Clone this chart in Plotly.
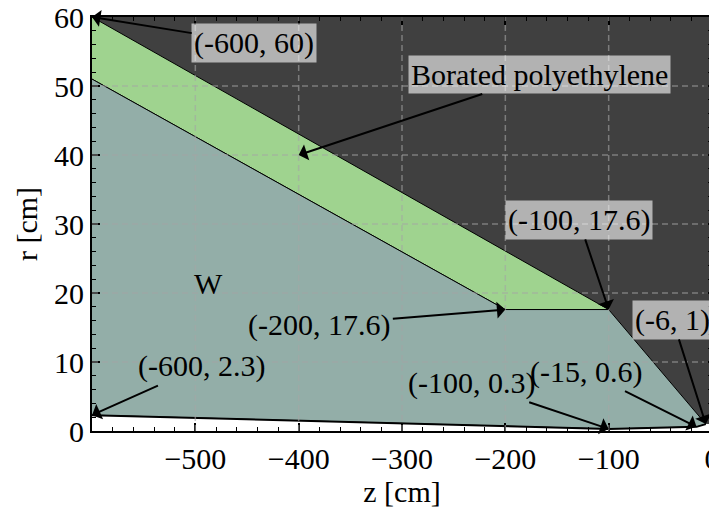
import plotly.graph_objects as go

# ---- data (z, r in cm) ----
bg_z = [-600, 0, 0, -600]
bg_r = [0, 0, 60, 60]

bpe_z = [-600, -100, -200, -600]
bpe_r = [60, 17.6, 17.6, 51]

w_z = [-600, -200, -100, -6, -15, -100, -600]
w_r = [51, 17.6, 17.6, 1, 0.6, 0.3, 2.3]

vac_z = [-600, -600, -100, -15, -6, 0, 0]
vac_r = [0, 2.3, 0.3, 0.6, 1, 1, 0]

# annotations: label, point (z, r), text position (z, r), boxed
ann_labels = ["(-600, 60)", "Borated polyethylene", "(-100, 17.6)", "(-200, 17.6)",
              "(-600, 2.3)", "(-100, 0.3)", "(-15, 0.6)", "(-6, 1)"]
ann_pz = [-600, -400, -100, -200, -600, -100, -15, -6]
ann_pr = [60, 40, 17.6, 17.6, 2.3, 0.3, 0.6, 1]
ann_tz = [-443, -167, -129, -380, -494, -233, -122, -38]
ann_tr = [56.2, 51.6, 30.6, 15.4, 9.4, 7.0, 8.6, 16.1]
ann_box = [True, True, True, False, False, False, False, True]

w_label = "W"
w_label_z, w_label_r = -487, 21.4

xticks = [-500, -400, -300, -200, -100, 0]
yticks = [0, 10, 20, 30, 40, 50, 60]

FONT = "Liberation Serif"
FS = 30

fig = go.Figure()
fig.add_trace(go.Scatter(x=bg_z, y=bg_r, fill="toself", fillcolor="#404040",
                         mode="lines", line=dict(color="#404040", width=0), hoverinfo="skip"))
fig.add_trace(go.Scatter(x=bpe_z, y=bpe_r, fill="toself", fillcolor="#9fd38f",
                         mode="lines", line=dict(color="black", width=1), hoverinfo="skip"))
fig.add_trace(go.Scatter(x=w_z, y=w_r, fill="toself", fillcolor="#93aea8",
                         mode="lines", line=dict(color="black", width=1), hoverinfo="skip"))
fig.add_trace(go.Scatter(x=vac_z, y=vac_r, fill="toself", fillcolor="white",
                         mode="lines", line=dict(color="white", width=0), hoverinfo="skip"))
fig.add_trace(go.Scatter(x=vac_z[1:5], y=vac_r[1:5], mode="lines",
                         line=dict(color="black", width=2), hoverinfo="skip"))

# dashed grid drawn above the filled regions
for xv in xticks[:-1]:
    fig.add_shape(type="line", xref="x", yref="paper", x0=xv, x1=xv, y0=0, y1=1,
                  line=dict(color="rgba(165,165,165,0.6)", width=1.5, dash="6px,4px"), layer="above")
for yv in yticks[1:-1]:
    fig.add_shape(type="line", xref="paper", yref="y", x0=0, x1=1, y0=yv, y1=yv,
                  line=dict(color="rgba(165,165,165,0.6)", width=1.5, dash="6px,4px"), layer="above")

for lab, pz, pr, tz, tr, box in zip(ann_labels, ann_pz, ann_pr, ann_tz, ann_tr, ann_box):
    fig.add_annotation(x=pz, y=pr, ax=tz, ay=tr, xref="x", yref="y", axref="x", ayref="y",
                       text=lab, showarrow=True, arrowhead=1, arrowsize=1.4, arrowwidth=2,
                       arrowcolor="black", font=dict(family=FONT, size=FS, color="black"),
                       bgcolor="rgba(255,255,255,0.6)" if box else "rgba(0,0,0,0)",
                       borderpad=2, standoff=0)

fig.add_annotation(x=w_label_z, y=w_label_r, xref="x", yref="y", text=w_label, showarrow=False,
                   font=dict(family=FONT, size=FS, color="black"))

axis_common = dict(showgrid=False, zeroline=False, showline=True, linecolor="black", linewidth=2,
                   mirror="allticks", ticks="inside", ticklen=8, tickwidth=1.5, tickcolor="black",
                   ticklabeloverflow="allow", automargin=False,
                   tickfont=dict(family=FONT, size=FS, color="black"))
fig.update_xaxes(range=[-600, 0], tickvals=xticks,
                 minor=dict(ticks="inside", ticklen=4, dtick=20, tick0=0, tickcolor="black", tickwidth=1),
                 title=dict(text="z [cm]", font=dict(family=FONT, size=FS, color="black"), standoff=2),
                 **axis_common)
fig.update_yaxes(range=[0, 60], tickvals=yticks,
                 minor=dict(ticks="inside", ticklen=4, dtick=2, tick0=0, tickcolor="black", tickwidth=1),
                 title=dict(text="r [cm]", font=dict(family=FONT, size=FS, color="black"), standoff=8),
                 **axis_common)

# page body has an 8px margin, so the figure is shrunk and margins shifted accordingly
fig.update_layout(width=709, height=500, margin=dict(l=84, r=5, t=9, b=77, autoexpand=False),
                  paper_bgcolor="white", plot_bgcolor="white", showlegend=False)

fig.write_html("out.html")
